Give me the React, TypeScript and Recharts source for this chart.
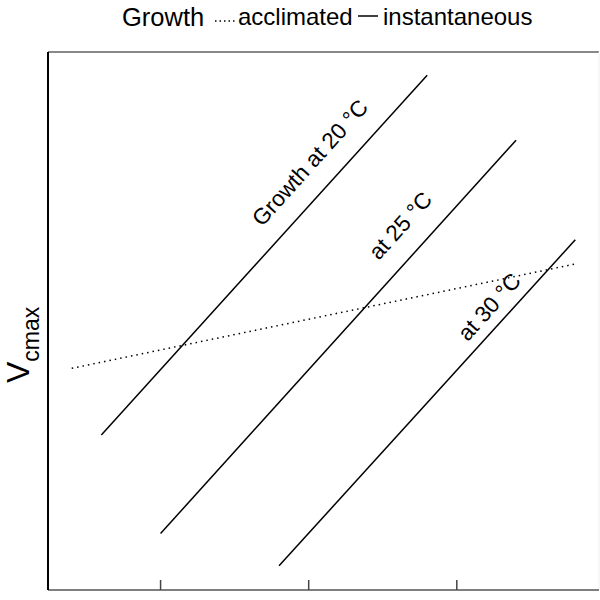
import { LineChart, XAxis, YAxis, Line, ReferenceLine, ReferenceDot } from 'recharts';

// growth temperature lines (instantaneous response)
const line20 = [ { t: 18, v: 28.8 }, { t: 29, v: 95.7 } ];
const line25 = [ { t: 20, v: 10.5 }, { t: 32, v: 83.6 } ];
const line30 = [ { t: 24, v: 4.5 }, { t: 34, v: 65.1 } ];
// acclimated response
const acclimated = [ { t: 17, v: 41.2 }, { t: 34, v: 60.6 } ];

const xTicks = [20, 25, 30];
const lineLabels = ['Growth at 20 °C', 'at 25 °C', 'at 30 °C'];
const labelAnchors = [ { t: 25.05, v: 79.4 }, { t: 28.1, v: 67.7 }, { t: 31.1, v: 52.6 } ];

const FONT = '"Liberation Sans", Arial, sans-serif';

const RotLabel = (text) => (props) => {
  const { viewBox } = props;
  const cx = viewBox.x + viewBox.width / 2;
  const cy = viewBox.y + viewBox.height / 2;
  return (
    <text x={cx} y={cy} textAnchor="middle" dominantBaseline="central"
      fontSize={22.5} fontFamily={FONT} fill="#000"
      transform={`rotate(-48 ${cx} ${cy})`}>
      {text}
    </text>
  );
};

const YLabel = () => (
  <text transform="translate(29 383) rotate(-90)" fontFamily={FONT} fill="#000" fontSize={32}>
    V<tspan fontSize={23} dy={10}>cmax</tspan>
  </text>
);

export default function App() {
  return (
    <div style={{ position: 'absolute', left: 0, top: 0, width: 600, height: 600, background: '#fff' }}>
      <LineChart width={600} height={600} margin={{ top: 52, right: 1, bottom: 0, left: 0 }}>
        <XAxis type="number" dataKey="t" domain={[16.2, 34.8]} ticks={xTicks} allowDataOverflow
          height={10} tickFormatter={() => ''} tickSize={-10} tickLine={{ stroke: '#444', strokeWidth: 1.5 }}
          axisLine={{ stroke: '#555', strokeWidth: 1.5 }} />
        <YAxis type="number" domain={[0, 100]} width={48} tick={false} tickLine={false}
          axisLine={{ stroke: '#000', strokeWidth: 2 }} label={<YLabel />} />
        <ReferenceLine y={100} stroke="#888" strokeWidth={2} />
        <ReferenceLine x={34.8} stroke="#eee" strokeWidth={1} />
        <Line data={acclimated} dataKey="v" stroke="#000" strokeWidth={1.5} strokeDasharray="1.5 4"
          dot={false} isAnimationActive={false} />
        <Line data={line20} dataKey="v" stroke="#000" strokeWidth={1.5} dot={false} isAnimationActive={false} />
        <Line data={line25} dataKey="v" stroke="#000" strokeWidth={1.5} dot={false} isAnimationActive={false} />
        <Line data={line30} dataKey="v" stroke="#000" strokeWidth={1.5} dot={false} isAnimationActive={false} />
        {lineLabels.map((txt, i) => (
          <ReferenceDot key={txt} x={labelAnchors[i].t} y={labelAnchors[i].v} r={0}
            fill="none" stroke="none" label={{ content: RotLabel(txt) }} />
        ))}
      </LineChart>
      <svg width={600} height={45} style={{ position: 'absolute', left: 0, top: 0 }}>
        <text x={122} y={26} fontFamily={FONT} fontSize={25.5} fill="#000">Growth</text>
        <line x1={215} y1={21} x2={235} y2={21} stroke="#000" strokeWidth={1.5} strokeDasharray="1.5 3" />
        <text x={238} y={25} fontFamily={FONT} fontSize={24} fill="#000">acclimated</text>
        <line x1={358} y1={16} x2={378} y2={16} stroke="#000" strokeWidth={1.5} />
        <text x={383} y={25} fontFamily={FONT} fontSize={24} fill="#000">instantaneous</text>
      </svg>
    </div>
  );
}
